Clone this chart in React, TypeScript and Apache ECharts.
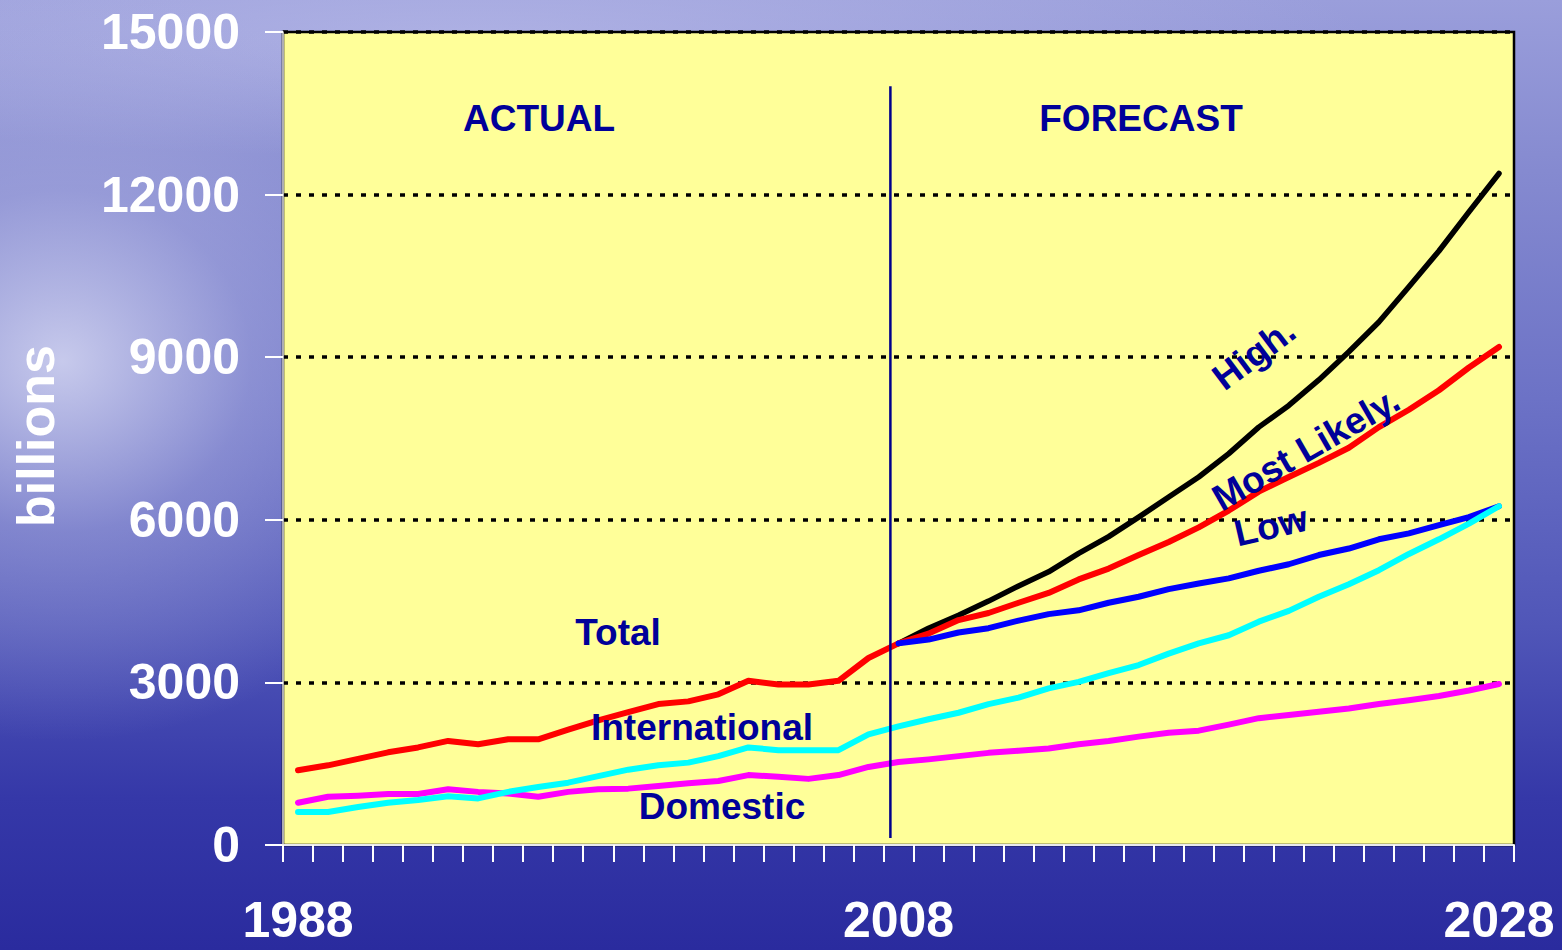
import React, { useEffect, useRef } from "react";
import * as echarts from "echarts";

const years = [
  "1988", "1989", "1990", "1991", "1992", "1993", "1994", "1995", "1996", "1997",
  "1998", "1999", "2000", "2001", "2002", "2003", "2004", "2005", "2006", "2007",
  "2008", "2009", "2010", "2011", "2012", "2013", "2014", "2015", "2016", "2017",
  "2018", "2019", "2020", "2021", "2022", "2023", "2024", "2025", "2026", "2027",
  "2028",
];

// 1988 - 2008
const totalActual = [
  1380, 1470, 1590, 1710, 1800, 1920, 1860, 1950, 1950, 2130,
  2300, 2450, 2600, 2650, 2780, 3030, 2960, 2960, 3030, 3450,
  3720,
];

// 1988 - 2028
const international = [
  610, 610, 700, 780, 830, 900, 860, 980, 1070, 1150,
  1270, 1390, 1470, 1520, 1640, 1800, 1750, 1750, 1750, 2040,
  2190, 2320, 2440, 2600, 2720, 2890, 3010, 3170, 3320, 3530,
  3720, 3870, 4120, 4320, 4580, 4810, 5070, 5370, 5640, 5930,
  6250,
];

const domestic = [
  780, 890, 910, 940, 940, 1030, 980, 950, 890, 980,
  1030, 1040, 1090, 1140, 1180, 1290, 1260, 1220, 1290, 1440,
  1530, 1580, 1640, 1700, 1740, 1780, 1860, 1920, 2000, 2070,
  2110, 2220, 2340, 2400, 2460, 2520, 2600, 2670, 2750, 2850,
  2970,
];

// 2008 - 2028
const forecastHigh = [
  3720, 4000, 4240, 4500, 4780, 5040, 5380, 5690, 6050, 6420,
  6790, 7220, 7710, 8110, 8580, 9100, 9650, 10300, 10960, 11680,
  12390,
];

const forecastMostLikely = [
  3720, 3900, 4150, 4280, 4470, 4650, 4900, 5100, 5350, 5590,
  5860, 6170, 6520, 6790, 7050, 7330, 7710, 8030, 8390, 8810,
  9190,
];

const forecastLow = [
  3720, 3790, 3920, 4000, 4140, 4260, 4330, 4470, 4580, 4720,
  4825, 4920, 5060, 5180, 5350, 5470, 5640, 5750, 5900, 6050,
  6250,
];

const yMin = 0;
const yMax = 15000;
const yInterval = 3000;

// divider between actual and forecast (year position, value range)
const dividerYear = 2007.73;
const dividerRange = [130, 14000];

const FONT = '"Liberation Sans", Arial, Helvetica, sans-serif';
const NAVY = "#000099";

function padBefore(arr: number[], n: number) {
  const out: (number | null)[] = [];
  for (let i = 0; i < n; i++) out.push(null);
  return out.concat(arr);
}
function padAfter(arr: number[], n: number) {
  const out: (number | null)[] = arr.slice();
  for (let i = 0; i < n; i++) out.push(null);
  return out;
}

function lineSeries(name: string, data: (number | null)[], color: string, width: number) {
  return {
    name,
    type: "line",
    data,
    xAxisIndex: 0,
    yAxisIndex: 0,
    symbol: "none",
    showSymbol: false,
    connectNulls: false,
    silent: true,
    lineStyle: { color, width, cap: "round", join: "round" },
    emphasis: { disabled: true },
  };
}

function label(text: string, x: number, y: number, rotDeg: number, size: number, color: string) {
  return {
    type: "text",
    x,
    y,
    rotation: (rotDeg * Math.PI) / 180,
    z: 100,
    silent: true,
    style: {
      text,
      fill: color,
      fontSize: size,
      fontWeight: "bold",
      fontFamily: FONT,
      align: "center",
      verticalAlign: "middle",
    },
  };
}

export default function App() {
  const ref = useRef<HTMLDivElement>(null);

  useEffect(() => {
    if (!ref.current) return;
    const chart = echarts.init(ref.current, undefined, { renderer: "svg" });
    const nPre = years.length - forecastHigh.length;
    const nPost = years.length - totalActual.length;

    const option = {
      animation: false,
      backgroundColor: "transparent",
      grid: {
        left: 283,
        top: 32,
        right: 48,
        bottom: 105,
        show: true,
        backgroundColor: "#FFFF99",
        borderColor: "#000000",
        borderWidth: 2.5,
        containLabel: false,
      },
      xAxis: [
        {
          type: "category",
          data: years,
          boundaryGap: true,
          z: 5,
          axisLine: { show: true, lineStyle: { color: "#e8e8ee", width: 2 } },
          axisTick: { show: true, interval: 0, length: 17, lineStyle: { color: "#ffffff", width: 2 } },
          axisLabel: {
            interval: (i: number) => i % 20 === 0,
            color: "#ffffff",
            fontSize: 50,
            fontWeight: "bold",
            fontFamily: FONT,
            lineHeight: 40,
            margin: 55,
          },
          splitLine: { show: false },
        },
        {
          type: "value",
          min: 1987.5,
          max: 2028.5,
          show: false,
          splitLine: { show: false },
        },
      ],
      yAxis: {
        type: "value",
        min: yMin,
        max: yMax,
        interval: yInterval,
        axisLine: { show: true, lineStyle: { color: "#e8e8ee", width: 1.5 } },
        axisTick: { show: true, length: 18, lineStyle: { color: "#ffffff", width: 2 } },
        axisLabel: {
          color: "#ffffff",
          fontSize: 50,
          fontWeight: "bold",
          fontFamily: FONT,
          margin: 43,
          formatter: (v: number) => String(v),
        },
        splitLine: {
          show: true,
          showMinLine: false,
          lineStyle: { color: "#000000", type: [5, 8], width: 3.5 },
        },
      },
      series: [
        lineSeries("High", padBefore(forecastHigh, nPre), "#000000", 5.5),
        lineSeries("Most Likely", padBefore(forecastMostLikely, nPre), "#FF0000", 6),
        lineSeries("Total", padAfter(totalActual, nPost), "#FF0000", 6),
        lineSeries("Low", padBefore(forecastLow, nPre), "#0000FF", 6),
        lineSeries("Domestic", domestic, "#FF00FF", 6),
        lineSeries("International", international, "#00FFFF", 6),
        {
          name: "divider",
          type: "line",
          xAxisIndex: 1,
          yAxisIndex: 0,
          data: [
            [dividerYear, dividerRange[0]],
            [dividerYear, dividerRange[1]],
          ],
          symbol: "none",
          silent: true,
          lineStyle: { color: "#00008B", width: 2.5 },
          emphasis: { disabled: true },
        },
      ],
      graphic: [
        label("billions", 36, 436, 90, 52, "#ffffff"),
        label("ACTUAL", 539, 118, 0, 37, NAVY),
        label("FORECAST", 1141, 118, 0, 37, NAVY),
        label("Total", 618, 632, 0, 37, NAVY),
        label("International", 702, 727, 0, 37, NAVY),
        label("Domestic", 722, 806, 0, 37, NAVY),
        label("High.", 1254, 354, 37, 37, NAVY),
        label("Most Likely.", 1306, 449, 30, 37, NAVY),
        label("Low", 1271, 526, 13, 37, NAVY),
      ],
    };

    chart.setOption(option as any);
    return () => {
      chart.dispose();
    };
  }, []);

  return (
    <div
      style={{
        position: "fixed",
        left: 0,
        top: 0,
        width: 1562,
        height: 950,
        overflow: "hidden",
        background:
          "radial-gradient(ellipse 420px 380px at 4% 38%, rgba(214,216,242,0.85) 0%, rgba(175,178,226,0.45) 45%, rgba(0,0,0,0) 100%)," +
          "radial-gradient(ellipse 900px 120px at 30% 4%, rgba(190,192,235,0.6) 0%, rgba(0,0,0,0) 100%)," +
          "linear-gradient(180deg, #9a9edb 0%, #858ad0 18%, #6c72c6 42%, #5056b8 66%, #3538a8 84%, #2a2b9e 100%)",
      }}
    >
      <div ref={ref} style={{ width: 1562, height: 950 }} />
    </div>
  );
}
